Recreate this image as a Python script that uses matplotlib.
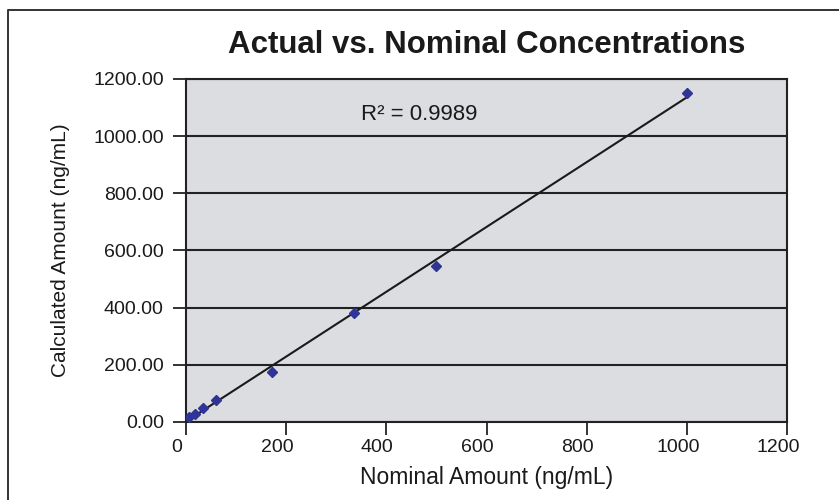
import numpy as np
import matplotlib
matplotlib.use("Agg")
import matplotlib.pyplot as plt
import matplotlib.transforms as mtransforms
from matplotlib.lines import Line2D

# values
nominal = [5, 18, 33, 60, 171, 335, 500, 1000]
calculated = [16, 28, 48, 77, 176, 380, 547, 1150]
r_squared_label = "R\u00b2 = 0.9989"
x_ticks = [0, 200, 400, 600, 800, 1000, 1200]
y_ticks = [0, 200, 400, 600, 800, 1000, 1200]

plt.rcParams["font.family"] = ["Liberation Sans", "DejaVu Sans"]

fig = plt.figure(figsize=(8.39, 5.0), dpi=100)
ax = fig.add_axes([186 / 839, 1 - 422 / 500, (787 - 186) / 839, (422 - 79) / 500])
ax.set_facecolor("#dcdde0")

# outer frame (only top and left edges show in the crop)
fig.add_artist(Line2D([8 / 839, 8 / 839, 1.0], [0.0, 1 - 10 / 500, 1 - 10 / 500],
                      transform=fig.transFigure, color="#333333", lw=1.4))

x = np.array(nominal, dtype=float)
y = np.array(calculated, dtype=float)
slope, intercept = np.polyfit(x, y, 1)
xs = np.array([x.min(), x.max()])
ax.plot(xs, slope * xs + intercept, color="#1a1a1a", lw=1.5, zorder=3)
ax.plot(x, y, linestyle="none", marker="D", ms=5, color="#2e3596", zorder=4)

ax.set_xlim(0, 1200)
ax.set_ylim(0, 1200)
ax.set_xticks(x_ticks)
ax.set_yticks(y_ticks)
ax.set_yticklabels([f"{v:.2f}" for v in y_ticks])
ax.yaxis.grid(True, color="#222222", lw=1.5)
ax.set_axisbelow(True)
for s in ax.spines.values():
    s.set_color("#222222")
    s.set_linewidth(1.5)
ax.tick_params(axis="both", direction="out", length=9.5, width=1.3, color="#222222",
               labelsize=14, labelcolor="#1a1a1a")
ax.tick_params(axis="x", pad=3)
ax.tick_params(axis="y", pad=6.5)

# x tick labels sit a little left of their ticks in the original
shift = mtransforms.ScaledTranslation(-9 / 100, 0, fig.dpi_scale_trans)
for lab in ax.get_xticklabels():
    lab.set_transform(lab.get_transform() + shift)

ax.set_xlabel("Nominal Amount (ng/mL)", fontsize=16.5, color="#1a1a1a", labelpad=7)
ax.set_ylabel("Calculated Amount (ng/mL)", fontsize=15, color="#1a1a1a", labelpad=17)

ax.text(350, 1075, r_squared_label, fontsize=16, color="#1a1a1a", va="center", ha="left")

fig.text((186 + 787) / 2 / 839, 1 - 45 / 500, "Actual vs. Nominal Concentrations",
         fontsize=22.5, fontweight="bold", color="#1a1a1a", ha="center", va="center")

fig.savefig("out.png", dpi=100)
